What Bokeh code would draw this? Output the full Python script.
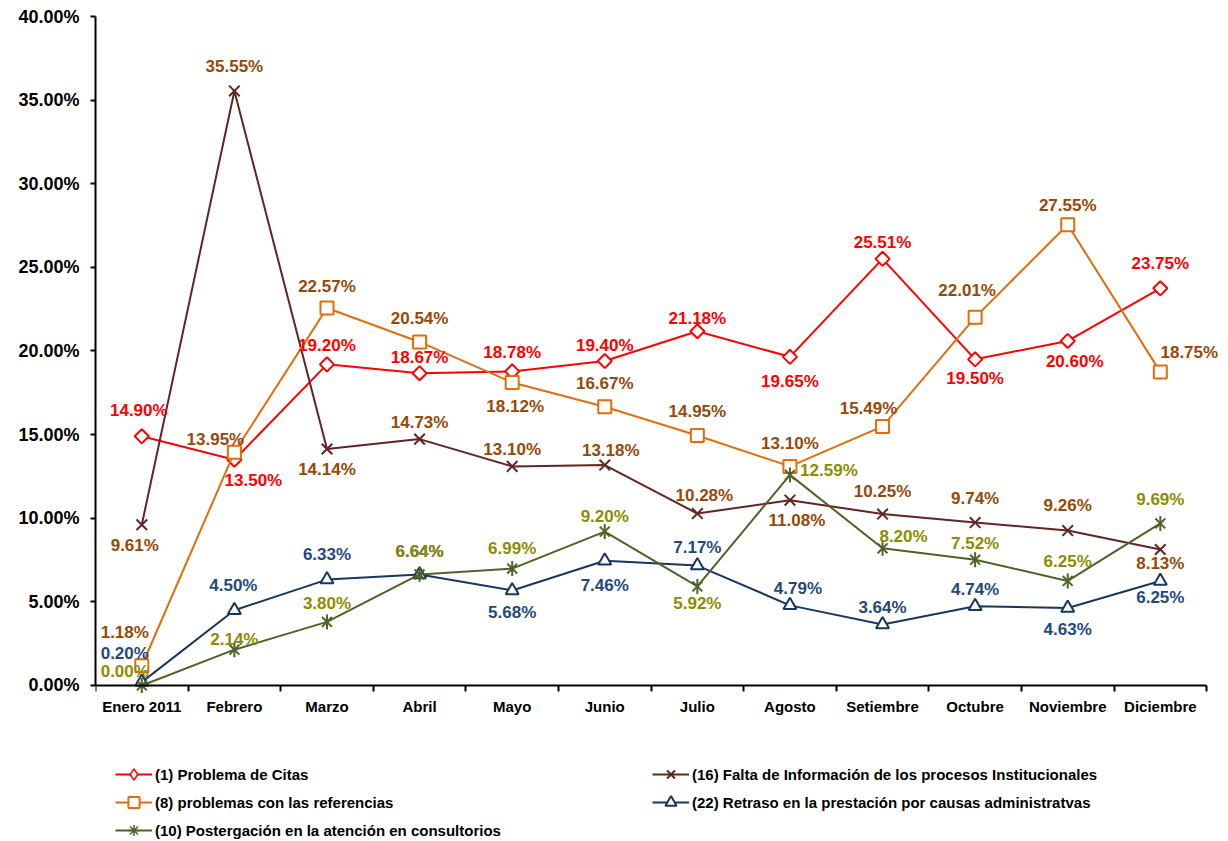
import math
from bokeh.plotting import figure
from bokeh.models import Range1d, FixedTicker, PrintfTickFormatter, Legend, LegendItem, ColumnDataSource
from bokeh.embed import file_html
from bokeh.resources import INLINE
from bokeh.core.properties import value

# ---------------- data ----------------
months = ["Enero 2011", "Febrero", "Marzo", "Abril", "Mayo", "Junio", "Julio",
          "Agosto", "Setiembre", "Octubre", "Noviembre", "Diciembre"]
citas = [14.90, 13.50, 19.20, 18.67, 18.78, 19.40, 21.18, 19.65, 25.51, 19.50, 20.60, 23.75]
falta = [9.61, 35.55, 14.14, 14.73, 13.10, 13.18, 10.28, 11.08, 10.25, 9.74, 9.26, 8.13]
referencias = [1.18, 13.95, 22.57, 20.54, 18.12, 16.67, 14.95, 13.10, 15.49, 22.01, 27.55, 18.75]
retraso = [0.20, 4.50, 6.33, 6.64, 5.68, 7.46, 7.17, 4.79, 3.64, 4.74, 4.63, 6.25]
postergacion = [0.00, 2.14, 3.80, 6.64, 6.99, 9.20, 5.92, 12.59, 8.20, 7.52, 6.25, 9.69]
y_ticks = [0, 5, 10, 15, 20, 25, 30, 35, 40]

names = {
    "citas": "(1) Problema de Citas",
    "falta": "(16) Falta de Información de los procesos Institucionales",
    "referencias": "(8) problemas con las referencias",
    "retraso": "(22) Retraso en la prestación por causas administratvas",
    "postergacion": "(10) Postergación en la atención en consultorios",
}

# label placement (screen px, +dy = down)
lab_citas = [(-3, -26), (19, 21), (0, -19), (0, -16), (0, -19), (0, -16), (0, -13), (0, 25), (0, -16), (0, 19), (7, 21), (0, -25)]
lab_falta = [(-7, 21), (0, -24), (0, 21), (0, -17), (0, -17), (6, -15), (7, -18), (7, 20), (0, -23), (0, -24), (0, -25), (0, 14)]
lab_ref = [(-17, -33), (-19, -13), (0, -22), (0, -23), (3, 24), (0, -23), (0, -24), (0, -23), (-14, -18), (-8, -27), (0, -19), (29, -19)]
lab_ret = [(-17, -29), (-1, -25), (0, -25), (0, -23), (0, 22), (0, 25), (0, -18), (8, -17), (0, -17), (0, -17), (0, 21), (0, 17)]
lab_post = [(-17, -14), (0, -10), (0, -18), (0, -23), (0, -20), (0, -15), (0, 17), (39, -4), (21, -12), (0, -16), (0, -19), (0, -24)]

FONT = "Liberation Sans"

xs = [i + 0.5 for i in range(len(months))]

p = figure(width=1228, height=841, output_backend="svg", toolbar_location=None,
           x_range=Range1d(0, 12.15), y_range=Range1d(-9.33, 40),
           min_border_left=95, min_border_right=8, min_border_top=16, min_border_bottom=0)
p.outline_line_color = None
p.xgrid.visible = False
p.ygrid.visible = False
p.background_fill_color = "white"

# y axis
ya = p.yaxis[0]
ya.ticker = FixedTicker(ticks=y_ticks, minor_ticks=[])
ya.formatter = PrintfTickFormatter(format="%.2f%%")
ya.bounds = (0, 40)
ya.axis_line_color = "black"
ya.axis_line_width = 2
ya.major_tick_in = 0
ya.major_tick_out = 5
ya.major_tick_line_width = 2
ya.minor_tick_line_color = None
ya.major_label_standoff = 11
ya.major_label_text_font = FONT
ya.major_label_text_font_style = "bold"
ya.major_label_text_font_size = "18px"
ya.major_label_text_color = "black"

# x axis (drawn at y = 0 inside the frame)
xa = p.xaxis[0]
xa.ticker = FixedTicker(ticks=xs, minor_ticks=list(range(0, len(months) + 1)))
xa.major_label_overrides = {x: m for x, m in zip(xs, months)}
xa.fixed_location = 0
xa.bounds = (0, len(months))
xa.axis_line_color = "black"
xa.axis_line_width = 2
xa.major_tick_line_color = None
xa.major_tick_in = 0
xa.major_tick_out = 6
xa.minor_tick_in = 0
xa.minor_tick_out = 6
xa.minor_tick_line_color = "black"
xa.minor_tick_line_width = 2
xa.major_label_standoff = 7
xa.major_label_text_font = FONT
xa.major_label_text_font_style = "bold"
xa.major_label_text_font_size = "15px"
xa.major_label_text_color = "black"

series = [
    ("citas", citas, "#FF0000", "#FF0000", lab_citas),
    ("falta", falta, "#632523", "#984807", lab_falta),
    ("referencias", referencias, "#E46C0A", "#984807", lab_ref),
    ("retraso", retraso, "#17375E", "#1F497D", lab_ret),
    ("postergacion", postergacion, "#4F6228", "#8C8C00", lab_post),
]

items = {}
for key, vals, lc, tc, labs in series:
    src = ColumnDataSource(dict(x=xs, y=vals))
    r_line = p.line("x", "y", source=src, line_color=lc, line_width=2)
    rs = [r_line]
    if key == "citas":
        p.scatter("x", "y", source=src, marker="square", size=10, angle=math.pi / 4,
                  fill_color="white", line_color=lc, line_width=2)
        # zero-size proxy: invisible on the plot, drawn by the legend at its own size
        rs.append(p.scatter("x", "y", source=src, marker="diamond", size=0,
                            fill_color="white", line_color=lc, line_width=1.5))
    elif key == "falta":
        rs.append(p.scatter("x", "y", source=src, marker="x", size=15, line_color=lc, line_width=2))
    elif key == "referencias":
        rs.append(p.scatter("x", "y", source=src, marker="square", size=13,
                            fill_color="white", line_color=lc, line_width=2))
    elif key == "retraso":
        rs.append(p.scatter("x", "y", source=src, marker="triangle", size=13,
                            fill_color="white", line_color=lc, line_width=2))
    else:
        p.scatter("x", "y", source=src, marker="x", size=14, line_color=lc, line_width=2)
        p.scatter("x", "y", source=src, marker="dash", size=15, angle=math.pi / 2,
                  line_color=lc, line_width=2)
        rs.append(p.scatter("x", "y", source=src, marker="asterisk", size=0,
                            line_color=lc, line_width=1.5))
    items[key] = rs

# data labels (drawn after all lines/markers)
for key, vals, lc, tc, labs in series:
    lsrc = ColumnDataSource(dict(
        x=xs, y=vals, t=["%.2f%%" % v for v in vals],
        dx=[d[0] for d in labs], dy=[d[1] for d in labs]))
    p.text("x", "y", text="t", source=lsrc, x_offset="dx", y_offset="dy",
           text_align="center", text_baseline="middle", text_color=tc,
           text_font=value(FONT), text_font_style="bold", text_font_size="17px")

order = ["citas", "falta", "referencias", "retraso", "postergacion"]
legend = Legend(items=[LegendItem(label=names[k], renderers=items[k]) for k in order],
                location=(20, -3), orientation="horizontal", ncols=2,
                glyph_width=37, glyph_height=28, label_height=28, label_width=497,
                label_standoff=3, spacing=0, padding=0, margin=0,
                label_text_font=FONT, label_text_font_style="bold",
                label_text_font_size="15px", label_text_color="black",
                background_fill_alpha=0, border_line_color=None)
p.add_layout(legend, "center")

open("out.html", "w").write(file_html(p, INLINE))
